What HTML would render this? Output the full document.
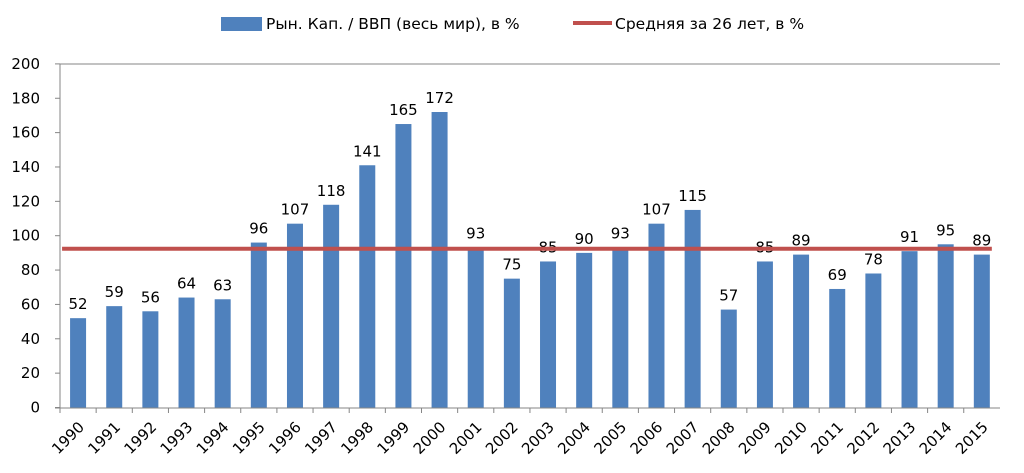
<!DOCTYPE html>
<html><head><meta charset="utf-8"><style>body{margin:0;background:#fff}svg{display:block}text{font-family:"DejaVu Sans","Liberation Sans",sans-serif}</style></head><body>
<svg width="1024" height="473" viewBox="0 0 1024 473" xmlns="http://www.w3.org/2000/svg">
<rect x="221" y="17" width="41" height="14" fill="#4f81bd"/>
<text x="266" y="29" font-size="15.5" fill="#000">Рын. Кап. / ВВП (весь мир), в %</text>
<line x1="573" y1="23" x2="612" y2="23" stroke="#c0504d" stroke-width="4"/>
<text x="615" y="29" font-size="15.5" fill="#000">Средняя за 26 лет, в %</text>
<line x1="60" y1="64" x2="1000" y2="64" stroke="#868686" stroke-width="1"/>
<g id="g"></g>
</svg>
<script>
const v=[52,59,56,64,63,96,107,118,141,165,172,93,75,85,90,93,107,115,57,85,89,69,78,91,95,89];
const ns="http://www.w3.org/2000/svg",g=document.getElementById('g');
function el(t,a,txt){const e=document.createElementNS(ns,t);for(const k in a)e.setAttribute(k,a[k]);if(txt!==undefined)e.textContent=txt;g.appendChild(e);return e;}
const x0=60,y0=407.5,s=1.718,w=36.15;
for(let i=0;i<=10;i++){const y=y0-i*20*s;el('text',{x:40,y:y+5,'font-size':15,'text-anchor':'end',fill:'#000'},i*20);el('line',{x1:55,y1:y,x2:60,y2:y,stroke:'#868686'});}
el('line',{x1:60,y1:64,x2:60,y2:408,stroke:'#868686'});
el('line',{x1:55,y1:408,x2:1000,y2:408,stroke:'#868686'});
v.forEach((d,i)=>{const c=x0+w*(i+0.5);const h=d*s;
el('rect',{x:c-8,y:y0-h,width:16,height:h,fill:'#4f81bd'});
el('text',{x:c,y:y0-h-9,'font-size':15,'text-anchor':'middle',fill:'#000'},d);
el('line',{x1:x0+w*i,y1:408,x2:x0+w*i,y2:413,stroke:'#868686'});
el('text',{x:0,y:0,'font-size':15,'text-anchor':'end',fill:'#000',transform:`translate(${c+7},${428}) rotate(-45)`},1990+i);
});
el('line',{x1:x0+w*0.5-16,y1:y0-92.4*s,x2:x0+w*25.5+10,y2:y0-92.4*s,stroke:'#c0504d','stroke-width':4});
</script>
</body></html>
